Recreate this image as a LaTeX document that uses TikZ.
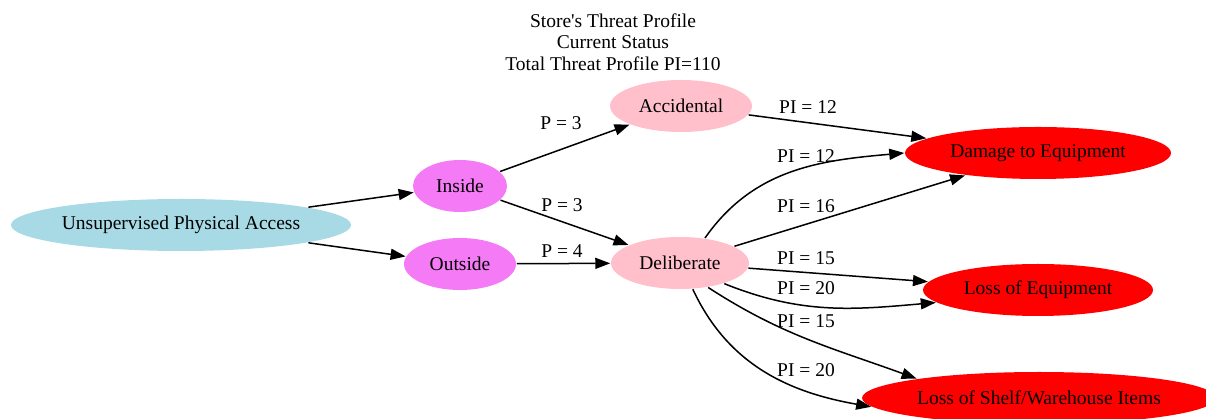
\documentclass[tikz,border=0pt]{standalone}
\usepackage{fontspec}
\setmainfont{Liberation Serif}
\usepackage{xcolor}
\usetikzlibrary{shapes.geometric, arrows.meta, positioning}

\definecolor{accessblue}{RGB}{168,218,230}
\definecolor{sourceviolet}{RGB}{245,122,245}
\definecolor{threatpink}{RGB}{255,192,203}
\definecolor{lossred}{RGB}{255,0,0}

\begin{document}
\begin{tikzpicture}[x=1pt, y=1pt, >={Triangle[length=15pt, width=11pt]}, line width=1.5pt,
    font=\fontsize{19.5}{21.5}\selectfont,
    state/.style={ellipse, inner sep=0pt, minimum height=52pt},
    lossnode/.style={state, fill=lossred},
    edge/.style={->, black}]
    \useasboundingbox (0,0) rectangle (1206,419);
    \node [align=center] (title) at (613, 377) {Store\textquotesingle s Threat Profile\\Current Status\\Total Threat Profile PI=110};
    \node [state, fill=accessblue, minimum width=340pt] (access) at (181, 194) {Unsupervised Physical Access};
    \node [state, fill=sourceviolet, minimum width=94pt] (inside) at (460, 233) {Inside};
    \node [state, fill=sourceviolet, minimum width=112pt] (outside) at (460, 155) {Outside};
    \node [state, fill=threatpink, minimum width=142pt] (accidental) at (681, 313) {Accidental};
    \node [state, fill=threatpink, minimum width=138pt] (deliberate) at (680, 156) {Deliberate};
    \node [lossnode, minimum width=266pt] (damage) at (1038, 266) {Damage to Equipment};
    \node [lossnode, minimum width=230pt] (lossequip) at (1038, 129) {Loss of Equipment};
    \node [lossnode, minimum width=354pt] (lossshelf) at (1039, 21) {Loss of Shelf/Warehouse Items};

    % probabilities
    \node (pacc) at (561, 296) {P = 3};
    \node (pins) at (562, 214) {P = 3};
    \node (pout) at (562, 168) {P = 4};
    % profile indices
    \node (piacc) at (808, 312) {PI = 12};
    \node (pidmga) at (806, 263) {PI = 12};
    \node (pidmgb) at (806, 213) {PI = 16};
    \node (piloea) at (806, 161) {PI = 15};
    \node (piloeb) at (806, 131) {PI = 20};
    \node (pilosa) at (806, 98) {PI = 15};
    \node (pilosb) at (806, 49) {PI = 20};

    \draw [edge] (access) -- (inside);
    \draw [edge] (access) -- (outside);
    \draw [edge] (inside) -- (accidental);
    \draw [edge] (inside) -- (deliberate);
    \draw [edge] (outside) -- (deliberate);
    \draw [edge] (accidental) -- (damage);
    \draw [edge] (deliberate.45) to[out=55, in=185] (damage.west);
    \draw [edge] (deliberate) -- (damage);
    \draw [edge] (deliberate) -- (lossequip);
    \draw [edge] (deliberate.-25) to[out=-22, in=185] (lossequip.187);
    \draw [edge] (deliberate.-41) to[out=-33, in=160] (lossshelf.171);
    \draw [edge] (deliberate.-64) to[out=-65, in=170] (lossshelf.183);
\end{tikzpicture}
\end{document}
